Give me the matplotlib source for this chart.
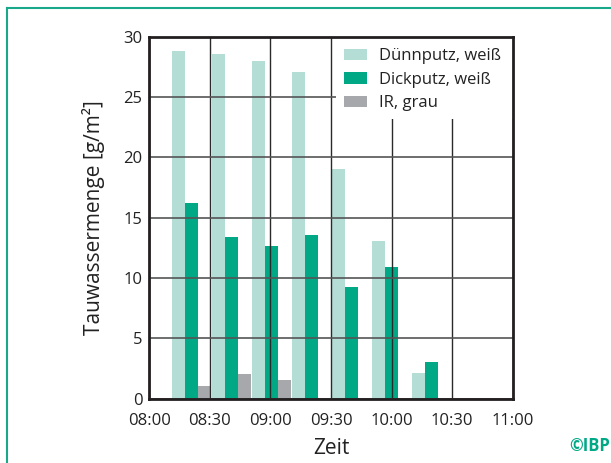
import matplotlib.pyplot as plt
from matplotlib.lines import Line2D
from matplotlib.patches import Rectangle

plt.rcParams['font.family'] = ['Open Sans', 'DejaVu Sans']

# measurement times in minutes after 08:00
zeit_min = [21, 40.8, 60.6, 80.4, 100.2, 120, 139.8]
duennputz = [28.8, 28.55, 28.0, 27.05, 19.0, 13.1, 2.15]
dickputz = [16.2, 13.4, 12.65, 13.55, 9.25, 10.9, 3.05]
ir_grau = [1.05, 2.05, 1.55, 0, 0, 0, 0]
x_ticks = [0, 30, 60, 90, 120, 150, 180]
x_labels = ['08:00', '08:30', '09:00', '09:30', '10:00', '10:30', '11:00']

c_light = '#b3ddd5'
c_dark = '#00a886'
c_gray = '#a7a8ac'
w = 6.4

fig = plt.figure(figsize=(6.11, 4.63), dpi=100)
ax = fig.add_axes([0.2443, 0.1389, 0.8391 - 0.2443, 0.9207 - 0.1389])

xl = [t - w for t in zeit_min]
xg = [t + w for t in zeit_min]
ax.bar(xl, duennputz, width=w, color=c_light, label='Dünnputz, weiß')
ax.bar(zeit_min, dickputz, width=w, color=c_dark, label='Dickputz, weiß')
ax.bar(xg, ir_grau, width=w, color=c_gray, label='IR, grau')

ax.set_xlim(0, 180)
ax.set_ylim(0, 30)
ax.set_xticks(x_ticks)
ax.set_xticklabels(x_labels)
ax.set_yticks(range(0, 31, 5))
ax.tick_params(length=0, labelsize=12, colors='#222222')
ax.tick_params(axis='x', pad=10)
ax.tick_params(axis='y', pad=5)

ax.set_axisbelow(False)
ax.yaxis.grid(True, color='#555555', linewidth=1.2)
ax.xaxis.grid(True, color='#2a2a2a', linewidth=1.0)

for s in ax.spines.values():
    s.set_linewidth(2.0)
    s.set_color('#231f20')
    s.set_zorder(6)

ax.set_xlabel('Zeit', fontsize=15, color='#222222', labelpad=7)
ax.set_ylabel('Tauwassermenge [g/m²]', fontsize=15, color='#222222', labelpad=13)

# white box behind the legend
ax.add_patch(Rectangle((0.514, 0.773), 0.486, 0.227, transform=ax.transAxes,
                       facecolor='white', edgecolor='none', zorder=4))

leg = ax.legend(loc='upper right', fontsize=12, frameon=False,
                handlelength=1.4, handleheight=0.7, handletextpad=0.7,
                labelspacing=0.45, borderpad=0.6, borderaxespad=0.1)
for t in leg.get_texts():
    t.set_color('#222222')

# green frame lines
fig.add_artist(Line2D([7 / 611, 7 / 611], [0, 1 - 8 / 463], color='#1aa88a', linewidth=1.5))
fig.add_artist(Line2D([7 / 611, 1], [1 - 8 / 463, 1 - 8 / 463], color='#1aa88a', linewidth=1.5))

fig.text(0.998, 0.018, '©IBP', ha='right', va='bottom', fontsize=12,
         fontweight='bold', color='#00a886')

fig.savefig('out.png', dpi=100)
